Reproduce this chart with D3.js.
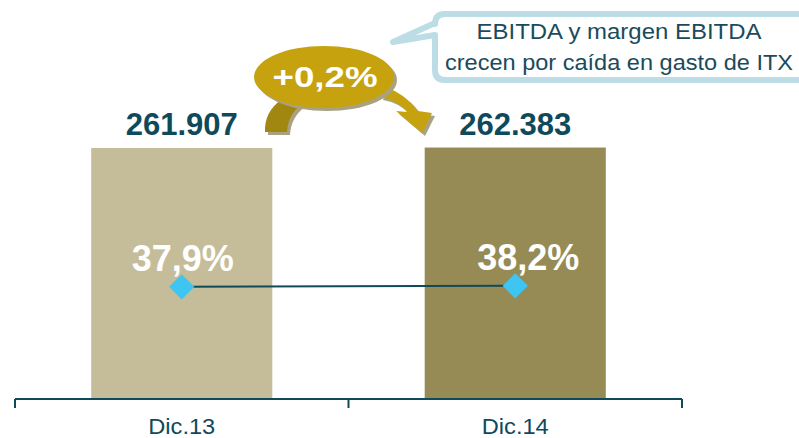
<!DOCTYPE html>
<html>
<head>
<meta charset="utf-8">
<script src="https://cdn.jsdelivr.net/npm/d3@7"></script>
<style>
  body { margin: 0; background: #fff; }
  svg { display: block; font-family: Arial, "Liberation Sans", sans-serif; }
</style>
</head>
<body>
<svg width="799" height="438"></svg>
<script>
const categories = ['Dic.13', 'Dic.14'];
const ebitda = [261907, 262383];
const ebitdaLabels = ['261.907', '262.383'];
const margin = [37.9, 38.2];
const marginLabels = ['37,9%', '38,2%'];
const changeLabel = '+0,2%';
const noteLines = ['EBITDA y margen EBITDA', 'crecen por caída en gasto de ITX'];

const barColors = ['#c5bd99', '#968b55'];
const dark = '#0f4a5b';

const svg = d3.select('svg');

const x = d3.scaleBand()
    .domain(categories)
    .range([15, 682])
    .paddingInner(0.457)
    .paddingOuter(0.2285);

const y = d3.scaleLinear()
    .domain([0, 300000])
    .range([399, 399 - 300000 * 251 / 261907]);

// margin line, own scale
const y2 = d3.scaleLinear()
    .domain([0, 100])
    .range([413, 80]);

// bars
svg.selectAll('rect.bar')
    .data(ebitda)
    .enter()
    .append('rect')
    .attr('class', 'bar')
    .attr('x', (d, i) => x(categories[i]))
    .attr('y', d => y(d))
    .attr('width', x.bandwidth())
    .attr('height', d => y(0) - y(d))
    .attr('fill', (d, i) => barColors[i]);

// value labels
svg.selectAll('text.val')
    .data(ebitdaLabels)
    .enter()
    .append('text')
    .attr('class', 'val')
    .attr('x', (d, i) => x(categories[i]) + x.bandwidth() / 2)
    .attr('y', (d, i) => y(ebitda[i]) - 13)
    .attr('text-anchor', 'middle')
    .attr('font-size', 31)
    .attr('font-weight', 'bold')
    .attr('fill', dark)
    .text(d => d);

// axis
const xAxis = d3.axisBottom(x).tickSize(0).tickPadding(19);
const ax = svg.append('g')
    .attr('transform', 'translate(0,399)')
    .call(xAxis);
ax.select('.domain').remove();
ax.selectAll('text')
    .attr('font-size', 22)
    .attr('fill', dark)
    .attr('font-family', 'Arial, "Liberation Sans", sans-serif')
    .attr('textLength', 67)
    .attr('lengthAdjust', 'spacingAndGlyphs');

svg.append('line')
    .attr('x1', x.range()[0]).attr('x2', x.range()[1])
    .attr('y1', 399).attr('y2', 399)
    .attr('stroke', dark).attr('stroke-width', 2);

const bounds = [x.range()[0]].concat(categories.map(c => x(c) - x.step() * x.paddingOuter() + x.step()));
svg.selectAll('line.tick')
    .data(bounds)
    .enter()
    .append('line')
    .attr('class', 'tick')
    .attr('x1', d => d).attr('x2', d => d)
    .attr('y1', 399).attr('y2', 408)
    .attr('stroke', dark).attr('stroke-width', 2);

// margin line
const cx = (d, i) => x(categories[i]) + x.bandwidth() / 2;
const line = d3.line()
    .x((d, i) => cx(d, i))
    .y(d => y2(d));

svg.append('path')
    .datum(margin)
    .attr('d', line)
    .attr('fill', 'none')
    .attr('stroke', dark)
    .attr('stroke-width', 2);

svg.selectAll('path.marker')
    .data(margin)
    .enter()
    .append('path')
    .attr('class', 'marker')
    .attr('d', d3.symbol().type(d3.symbolSquare).size(320))
    .attr('transform', (d, i) => 'translate(' + cx(d, i) + ',' + y2(d) + ') rotate(45)')
    .attr('fill', '#3ec5f1');

svg.selectAll('text.pct')
    .data(marginLabels)
    .enter()
    .append('text')
    .attr('class', 'pct')
    .attr('x', (d, i) => cx(d, i) + 1 + i * 12)
    .attr('y', (d, i) => y2(margin[i]) - 16)
    .attr('text-anchor', 'middle')
    .attr('font-size', 36)
    .attr('font-weight', 'bold')
    .attr('fill', '#fff')
    .text(d => d);

// curved arrows + bubble
const shadow = '#a8a283';
const leftArrow = 'M265 132 Q264 112 282 99 L302 104 Q288 114 287 132 Z';
const rightArrow = 'M383 86 Q406 94 418 111 L432 113 L422 133 L396 111 L407 112 Q398 100 380 97 Z';
[[leftArrow, '#a1860f'], [rightArrow, '#c7a20f']].forEach(a => {
  svg.append('path').attr('d', a[0]).attr('fill', shadow).attr('transform', 'translate(3,3)');
  svg.append('path').attr('d', a[0]).attr('fill', a[1]);
});
svg.append('ellipse')
    .attr('cx', 327).attr('cy', 80).attr('rx', 70).attr('ry', 31)
    .attr('fill', shadow);
svg.append('ellipse')
    .attr('cx', 324).attr('cy', 77).attr('rx', 70).attr('ry', 31)
    .attr('fill', '#c7a20f');
svg.append('text')
    .attr('x', 325).attr('y', 87)
    .attr('text-anchor', 'middle')
    .attr('font-size', 30)
    .attr('font-weight', 'bold')
    .attr('fill', '#fff')
    .attr('textLength', 105)
    .attr('lengthAdjust', 'spacingAndGlyphs')
    .text(changeLabel);

// callout
svg.append('path')
    .attr('d', 'M445 14 H815 V80 H445 Q435 80 435 70 V35 L393 42 L435 23 V24 Q435 14 445 14 Z')
    .attr('fill', '#fff')
    .attr('stroke', '#bcdde5')
    .attr('stroke-width', 6)
    .attr('stroke-linejoin', 'round');

const noteWidths = [285, 348];
svg.selectAll('text.note')
    .data(noteLines)
    .enter()
    .append('text')
    .attr('class', 'note')
    .attr('x', 619)
    .attr('y', (d, i) => 39 + i * 31)
    .attr('text-anchor', 'middle')
    .attr('font-size', 22)
    .attr('fill', '#1b4b5b')
    .attr('textLength', (d, i) => noteWidths[i])
    .attr('lengthAdjust', 'spacingAndGlyphs')
    .text(d => d);
</script>
</body>
</html>
